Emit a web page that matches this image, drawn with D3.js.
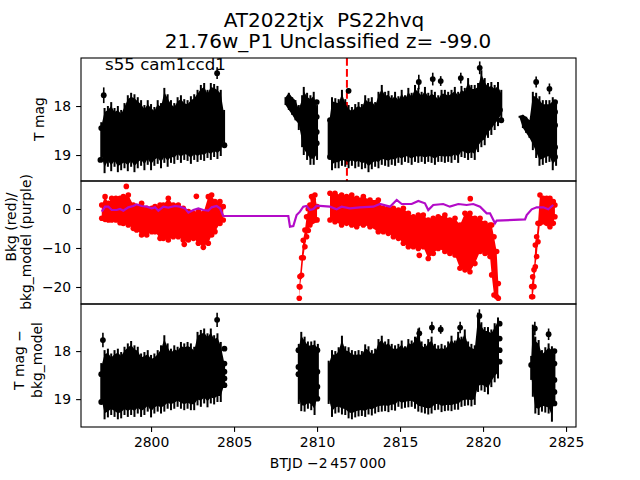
<!DOCTYPE html>
<html><head><meta charset="utf-8">
<script src="https://cdn.jsdelivr.net/npm/d3@7"></script>
<style>html,body{margin:0;padding:0;background:#fff}svg{display:block}text{font-family:"DejaVu Sans";fill:#000;white-space:pre}</style>
</head><body><svg id="c" width="640" height="480"></svg>
<script>
const titleLines = ["AT2022tjx  PS22hvq", "21.76w_P1 Unclassified z= -99.0"];
const sectorNote = "s55 cam1ccd1";
const xTicks = [2800, 2805, 2810, 2815, 2820, 2825];
const topTicks = [18, 19], midTicks = [0, -10, -20], lowTicks = [18, 19];
const eventTime = 2811.8;

// Top panel: T mag envelope of the light curve
const topTime = [2797.0,2797.2,2797.4,2797.6,2797.8,2798.0,2798.2,2798.4,2798.6,2798.8,2799.0,2799.2,2799.4,2799.6,2799.8,2800.0,2800.2,2800.4,2800.6,2800.8,2801.0,2801.2,2801.4,2801.6,2801.8,2802.0,2802.2,2802.4,2802.6,2802.8,2803.0,2803.2,2803.4,2803.6,2803.8,2804.0,2804.2,2804.4,
 2808.1,2808.3,2808.5,2808.7,2808.9,2809.1,2809.2,2809.4,2809.6,2809.8,2810.0,
 2810.7,2810.9,2811.1,2811.3,2811.5,2811.7,2811.9,2812.1,2812.3,2812.5,2812.7,2812.9,2813.1,2813.3,2813.5,2813.7,2813.9,2814.1,2814.3,2814.5,2814.7,2814.9,2815.1,2815.3,2815.5,2815.7,2815.9,2816.1,2816.3,2816.5,2816.7,2816.9,2817.1,2817.3,2817.5,2817.7,2817.9,2818.1,2818.3,2818.5,2818.7,2818.9,2819.1,2819.3,2819.5,2819.7,2819.9,2820.1,2820.3,2820.5,2820.7,2820.9,2821.1,
 2822.2,2822.4,2822.6,2822.8,2823.0,2823.2,2823.4,2823.6,2823.8,2824.0,2824.2,2824.4];
const topHigh = [18.33,18.04,18,17.92,18.04,18,18.08,17.94,17.78,17.73,17.76,17.82,17.88,17.98,17.88,17.96,18.02,17.88,17.94,17.63,17.76,17.88,17.94,17.82,17.78,17.86,17.88,17.80,17.76,17.67,17.57,17.53,17.67,17.53,17.55,17.59,17.67,18.08,
 17.82,17.73,17.82,17.88,17.98,17.78,17.61,17.73,17.78,17.71,17.98,
 18.33,17.82,17.84,17.86,17.67,17.86,17.98,18.02,17.96,17.92,17.96,17.78,17.84,17.82,17.92,17.71,17.57,17.71,17.69,17.78,17.71,17.80,17.67,17.78,17.63,17.73,17.57,17.63,17.71,17.61,17.73,17.67,17.71,17.78,17.67,17.67,17.71,17.67,17.61,17.71,17.59,17.63,17.43,17.57,17.57,17.53,17.27,17.43,17.53,17.51,17.57,17.51,17.67,
 18.2,18.18,18.22,18.29,17.71,17.73,17.80,17.88,17.88,17.88,17.82,17.88];
const topLow = [19.10,19.37,19.24,19.33,19.24,19.35,19.31,19.27,19.33,19.24,19.35,19.27,19.22,19.31,19.20,19.31,19.22,19.18,19.27,19.16,19.24,19.16,19.18,19.10,19.16,19.10,19.12,19.18,19.10,19.14,19.10,19.12,19.06,19.10,19.04,19.08,19.02,18.80,
 17.98,18.08,18.18,18.29,18.49,18.84,19.00,19.10,19.20,19.20,19.10,
 19.06,19.31,19.27,19.27,19.22,19.24,19.27,19.22,19.27,19.24,19.29,19.27,19.35,19.29,19.24,19.27,19.20,19.22,19.24,19.20,19.22,19.16,19.20,19.14,19.16,19.20,19.14,19.16,19.14,19.18,19.14,19.16,19.20,19.14,19.14,19.16,19.14,19.16,19.10,19.16,19.04,19.06,19.10,19.06,19.10,18.94,18.84,18.80,18.65,18.59,18.49,18.41,18.29,
 18.24,18.45,18.55,18.65,18.90,19.06,19.22,19.20,19.16,19.14,19.31,19.22];
const topPointTime = [2797.15,2803.98,2809.98,2809.98,2809.98,2809.98,2810.78,2810.78,2816.13,2816.97,2817.45,2818.66,2819.8,2821.02,2821.1,2823.2,2824.0,2824.34,2824.34,2824.34,2824.34,2824.34,2804.42,2797.0,2796.95,2811.9];
const topPointMag = [17.78,17.33,17.92,18.22,18.53,18.76,18.29,19.04,17.51,17.45,17.49,17.43,17.22,18.08,18.29,17.51,17.65,17.92,18.12,18.39,18.84,19.04,18.80,18.45,19.10,17.69];
const topPointErr = [0.16,0.12,0.02,0.02,0.02,0.02,0.02,0.02,0.15,0.13,0.1,0.11,0.13,0.02,0.02,0.11,0.11,0.02,0.02,0.02,0.02,0.02,0.02,0.02,0.02,0.05];

// Middle panel: background (red) envelope
const bkgTime = [2797.03,2797.23,2797.43,2797.63,2797.88,2798.13,2798.33,2798.63,2798.93,2799.13,2799.43,2799.74,2800.04,2800.24,2800.54,2800.74,2801.04,2801.34,2801.64,2801.94,2802.25,2802.55,2802.85,2803.15,2803.45,2803.65,2803.85,2804.15,2804.35,
 2808.93,2808.97,2809.07,2809.17,2809.27,2809.37,2809.47,2809.57,2809.67,2809.77,2809.87,2810.0,
 2810.78,2811.08,2811.48,2811.78,2812.09,2812.39,2812.79,2813.19,2813.69,2813.99,2814.29,2814.6,2814.9,2815.2,2815.5,2815.8,2816.1,2816.4,2816.7,2817.0,2817.3,2817.7,2818.0,2818.31,2818.61,2818.91,2819.21,2819.51,2819.82,2820.12,2820.42,2820.52,2820.66,2820.82,2820.92,
 2822.93,2822.99,2823.07,2823.15,2823.23,2823.31,2823.43,2823.63,2823.83,2824.03,2824.23,2824.33];
const bkgHigh = [1.03,3.17,1.46,2.74,2.74,2.74,3.17,3.6,1.03,0.6,1.46,0.17,0.17,0.6,1.03,1.03,2.74,1.03,1.03,0.17,-0.68,-1.11,-0.68,-1.11,3.17,3.6,1.88,1.88,0.6,
 -19.9,-17.3,-12.5,-8,-5.4,-2,0,1,3.2,2.5,3.6,0.6,
 4.02,4.02,3.6,3.17,3.6,2.74,3.17,2.31,2.31,0.17,0.17,0.17,-0.26,0.17,-1.11,-1.97,-1.54,-1.54,-2.82,-2.39,-1.97,-1.54,-2.82,-2.39,-4.1,-1.11,-1.11,-2.39,-2.39,-3.68,-4.1,-4.1,-7.1,-10.9,-19.1,
 -19.9,-17.4,-15.6,-9.23,-7.1,-3.68,3.6,2.74,2.74,2.74,1.88,1.03];
const bkgLow = [-2.39,-2.65,-2.82,-2.82,-2.82,-3.5,-3.7,-4.1,-4.96,-5.39,-6.67,-6.67,-5.81,-5.81,-7.52,-7.52,-7.95,-7.1,-7.1,-7.95,-7.95,-7.52,-8.8,-8.8,-8.8,-6.67,-5.81,-3.7,-2.82,
 -22.9,-20,-17,-12.5,-9.7,-7.1,-5.5,-4.1,-3.3,-3,-2.8,-2.8,
 -2.82,-3.25,-4.1,-3.68,-4.1,-4.53,-4.1,-4.53,-5.81,-5.81,-6.24,-7.1,-7.52,-8.8,-9.66,-9.66,-10.1,-9.66,-12.7,-11.4,-10.1,-10.9,-11.4,-11.8,-15.2,-15.6,-16.1,-14,-10.9,-11.4,-12.2,-16.9,-22.06,-22.5,-22.9,
 -22.5,-22.5,-19.9,-14.8,-12.2,-8.38,-3.68,-3.25,-3.68,-4.53,-3.68,-1.97];
const bkgPointTime = [2798.51,2802.0,2802.73,2803.15,2816.16,2819.23];
const bkgPointValue = [5.8,-9.06,3.25,-9.83,-11.88,2.65];

// Middle panel: bkg_model (purple) line
const modelTime = [2797.03,2797.23,2797.43,2797.63,2797.93,2798.13,2798.33,2798.63,2798.93,2799.13,2799.43,2799.74,2800.04,2800.24,2800.44,2800.74,2801.04,2801.44,2801.74,2802.05,2802.25,2802.55,2802.85,2803.15,2803.45,2803.65,2803.95,2804.15,2804.35,2808.27,2808.37,2808.57,2808.77,2808.97,2809.17,2809.37,2809.57,2809.78,2809.98,2810.78,2811.18,2811.48,2811.98,2812.59,2813.39,2813.79,2814.39,2814.8,2815.1,2815.7,2816.1,2816.5,2816.7,2817,2817.6,2818,2818.51,2819.01,2819.41,2819.82,2820.22,2820.42,2820.72,2820.82,2822.53,2822.63,2822.93,2823.23,2823.63,2823.93,2824.23];
const modelValue = [-0.68,0.6,0.6,-0.26,-0.26,0,-0.43,0.43,0.77,1.2,0.77,0.6,0.17,0.43,-0.43,0.6,0.34,0.77,0.6,0.17,-0.94,-0.26,0.17,-0.26,-0.43,0.43,0.77,0.17,-1.79,-1.79,-4.53,-4.36,-1.54,-0.68,0.6,0.77,-0.26,0,0.86,0.6,-0.08,0.6,0.17,0.43,0.6,1.28,0.6,2.31,1.28,1.28,2.05,1.46,-0.26,1.03,1.28,0.6,1.28,1.03,1.28,0.6,-1.11,-1.11,-3.68,-2.99,-2.65,-1.54,-0.08,0.43,0.43,-0.08,1.03];

// Bottom panel: T mag - bkg_model envelope
const lowTime = [2797.0,2797.2,2797.4,2797.6,2797.8,2798.0,2798.2,2798.4,2798.6,2798.8,2799.0,2799.2,2799.4,2799.6,2799.8,2800.0,2800.2,2800.4,2800.6,2800.8,2801.0,2801.2,2801.4,2801.6,2801.8,2802.0,2802.2,2802.4,2802.6,2802.8,2803.0,2803.2,2803.4,2803.6,2803.8,2804.0,2804.2,2804.4,
 2808.9,2809.05,2809.25,2809.45,2809.65,2809.85,2810.05,
 2810.7,2810.9,2811.1,2811.3,2811.5,2811.7,2811.9,2812.1,2812.3,2812.5,2812.7,2812.9,2813.1,2813.3,2813.5,2813.7,2813.9,2814.1,2814.3,2814.5,2814.7,2814.9,2815.1,2815.3,2815.5,2815.7,2815.9,2816.1,2816.3,2816.5,2816.7,2816.9,2817.1,2817.3,2817.5,2817.7,2817.9,2818.1,2818.3,2818.5,2818.7,2818.9,2819.1,2819.3,2819.5,2819.7,2819.9,2820.1,2820.3,2820.5,2820.7,2820.9,
 2822.9,2823.0,2823.15,2823.35,2823.55,2823.75,2823.95,2824.15,2824.3];
const lowHigh = [18.25,17.98,17.95,18.05,17.98,17.95,18.02,17.91,17.84,17.79,17.88,17.91,18.05,18.02,17.98,18.08,18.05,17.98,17.88,17.67,17.84,17.95,17.88,17.91,17.81,17.84,17.81,17.84,17.91,17.60,17.56,17.53,17.63,17.53,17.67,17.63,17.81,18.22,
 17.85,17.6,17.7,17.8,17.8,17.78,17.85,
 18.2,17.98,18.0,17.92,17.68,17.9,17.92,17.98,18.0,17.98,18.0,17.86,17.9,17.98,17.95,17.75,17.68,17.8,17.75,17.85,17.88,17.85,17.78,17.9,17.75,17.78,17.7,17.53,17.8,17.85,17.75,17.7,17.85,17.88,17.85,17.88,17.8,17.68,17.78,17.6,17.7,17.55,17.8,17.85,17.88,17.2,17.4,17.5,17.5,17.55,17.42,17.3,
 18.1,17.45,17.7,17.77,17.98,17.92,17.84,17.9,18.0];
const lowLow = [19.1,19.42,19.38,19.33,19.37,19.42,19.40,19.33,19.37,19.33,19.37,19.30,19.37,19.33,19.26,19.38,19.30,19.26,19.30,19.26,19.20,19.23,19.20,19.16,19.20,19.23,19.20,19.23,19.23,19.13,19.16,19.09,19.17,19.09,19.11,19.06,19.06,18.71,
 19.1,19.25,19.26,19.2,19.23,19.33,19.0,
 19.1,19.37,19.3,19.28,19.32,19.33,19.4,19.42,19.38,19.36,19.35,19.37,19.32,19.34,19.3,19.27,19.26,19.25,19.27,19.23,19.24,19.16,19.2,19.18,19.17,19.16,19.2,19.26,19.28,19.3,19.32,19.3,19.23,19.22,19.27,19.25,19.24,19.25,19.22,19.22,19.16,19.14,19.13,19.15,19.12,18.85,18.82,18.85,18.9,18.75,18.65,18.57,
 18.6,18.95,19.3,19.33,19.26,19.28,19.3,19.47,19.09];
const lowPointTime = [2797.1,2803.98,2804.42,2804.42,2804.42,2804.42,2804.42,2797.0,2797.0,2810.02,2810.02,2810.02,2810.02,2808.88,2808.88,2808.88,2816.16,2816.92,2817.45,2818.62,2819.78,2821.0,2821.0,2821.0,2821.0,2823.12,2823.95,2824.3,2824.3,2824.3,2824.3,2824.3,2822.9];
const lowPointMag = [17.77,17.35,17.95,18.26,18.43,18.57,18.71,18.48,19.06,17.98,18.43,18.74,18.99,17.98,18.33,18.48,17.63,17.51,17.55,17.51,17.27,17.43,17.74,17.98,18.22,17.53,17.65,18.0,18.26,18.6,18.85,19.09,18.29];
const lowPointErr = [0.15,0.15,0.02,0.02,0.02,0.02,0.02,0.02,0.02,0.02,0.02,0.02,0.02,0.02,0.02,0.02,0.12,0.12,0.09,0.12,0.14,0.02,0.02,0.02,0.02,0.14,0.12,0.02,0.02,0.02,0.02,0.02,0.02];

const svg = d3.select("#c");
const L = 81, R = 576;
const x = d3.scaleLinear().domain([2795.78, 2825.6]).range([L, R]);
const panels = {
  top: {y0: 58, y1: 181, domain: [17.02, 19.53]},
  mid: {y0: 181, y1: 304, domain: [7.18, -24.36]},
  low: {y0: 304, y1: 427, domain: [17.02, 19.58]}
};
Object.entries(panels).forEach(([k, p]) => {
  p.y = d3.scaleLinear().domain(p.domain).range([p.y0, p.y1]);
  const cp = svg.append("clipPath").attr("id", "cp-" + k);
  cp.append("rect").attr("x", L).attr("y", p.y0).attr("width", R - L).attr("height", p.y1 - p.y0);
  p.g = svg.append("g").attr("clip-path", `url(#cp-${k})`);
});

function segments(time) {
  const out = []; let s = 0;
  for (let i = 1; i <= time.length; i++) {
    if (i === time.length || time[i] - time[i - 1] > 0.6) { out.push(d3.range(s, i)); s = i; }
  }
  return out;
}
function blob(g, y, time, high, low, color) {
  const inset = i => (low[i] - high[i]) < 0.5 ? 0 : 1;
  const area = d3.area().x(i => x(time[i]))
    .y0(i => y(high[i]) + 4 * inset(i))
    .y1(i => y(low[i]) - 6 * inset(i));
  segments(time).forEach(seg => g.append("path").attr("d", area(seg)).attr("fill", color));
  g.selectAll(null).data(d3.range(time.length)).join("line")
    .attr("x1", i => x(time[i])).attr("x2", i => x(time[i]))
    .attr("y1", i => y(high[i])).attr("y2", i => y(low[i]))
    .attr("stroke", color).attr("stroke-width", 2);
}
function points(g, y, time, mag, err) {
  g.selectAll(null).data(d3.range(time.length)).join("line")
    .attr("x1", i => x(time[i])).attr("x2", i => x(time[i]))
    .attr("y1", i => y(mag[i] - err[i])).attr("y2", i => y(mag[i] + err[i]))
    .attr("stroke", "#000").attr("stroke-width", 1.6);
  g.selectAll(null).data(d3.range(time.length)).join("circle")
    .attr("cx", i => x(time[i])).attr("cy", i => y(mag[i])).attr("r", 2.9).attr("fill", "#000");
}

// top
panels.top.g.append("line").attr("x1", x(eventTime)).attr("x2", x(eventTime))
  .attr("y1", panels.top.y0).attr("y2", panels.top.y1)
  .attr("stroke", "#f00").attr("stroke-width", 2).attr("stroke-dasharray", "7.7,3.3");
blob(panels.top.g, panels.top.y, topTime, topHigh, topLow, "#000");
points(panels.top.g, panels.top.y, topPointTime, topPointMag, topPointErr);

// middle
const mg = panels.mid.g, my = panels.mid.y;
const bkgArea = d3.area().x(i => x(bkgTime[i])).y0(i => my(bkgHigh[i])).y1(i => my(bkgLow[i]));
segments(bkgTime).forEach(seg => mg.append("path").attr("d", bkgArea(seg)).attr("fill", "#f00"));
[bkgHigh, bkgLow].forEach(vals => {
  mg.selectAll(null).data(bkgTime).join("circle")
    .attr("cx", d => x(d)).attr("cy", (d, i) => my(vals[i])).attr("r", 2.8).attr("fill", "#f00");
});
mg.selectAll(null).data(bkgPointTime).join("circle")
  .attr("cx", d => x(d)).attr("cy", (d, i) => my(bkgPointValue[i])).attr("r", 2.8).attr("fill", "#f00");
mg.append("path").datum(d3.range(modelTime.length))
  .attr("d", d3.line().x(i => x(modelTime[i])).y(i => my(modelValue[i])))
  .attr("fill", "none").attr("stroke", "#b30bc8").attr("stroke-width", 2.2);

// bottom
blob(panels.low.g, panels.low.y, lowTime, lowHigh, lowLow, "#000");
points(panels.low.g, panels.low.y, lowPointTime, lowPointMag, lowPointErr);

// frames and axes
const fmt = d => String(d).replace("-", "\u2212");
function styleAxis(a) {
  a.selectAll(".domain").remove();
  a.selectAll("line").attr("stroke", "#000").attr("stroke-width", 1.1);
  a.selectAll("text").attr("font-size", 13.9).attr("font-family", "DejaVu Sans").attr("fill", "#000");
}
[["top", topTicks], ["mid", midTicks], ["low", lowTicks]].forEach(([k, ticks]) => {
  const p = panels[k];
  svg.append("g").attr("transform", `translate(${L},0)`)
    .call(d3.axisLeft(p.y).tickValues(ticks).tickFormat(fmt).tickSize(4.9).tickPadding(4.9)).call(styleAxis);
  svg.append("rect").attr("x", L).attr("y", p.y0).attr("width", R - L).attr("height", p.y1 - p.y0)
    .attr("fill", "none").attr("stroke", "#000").attr("stroke-width", 1.1);
});
svg.append("g").attr("transform", `translate(0,${panels.low.y1})`)
  .call(d3.axisBottom(x).tickValues(xTicks).tickFormat(d3.format("d")).tickSize(4.9).tickPadding(4.9)).call(styleAxis);

// text
const label = (t, xx, yy, size, rot, anchor = "middle") => svg.append("text").text(t)
  .attr("font-size", size).attr("text-anchor", anchor)
  .attr("transform", `translate(${xx},${yy})` + (rot ? " rotate(-90)" : ""));
label(titleLines[0], 324, 27, 20);
label(titleLines[1], 328, 48, 20);
label(sectorNote, 105, 70, 16.67, false, "start");
label("BTJD \u22122\u2009457\u2009000", 328, 468, 13.9);
label("T mag", 44, 119, 13.9, true);
label("Bkg (red)/", 16, 227, 13.9, true);
label("bkg_model (purple)", 31, 242, 13.9, true);
label("T mag \u2212", 24, 360, 13.9, true);
label("bkg_model", 42, 360, 13.9, true);
</script></body></html>
